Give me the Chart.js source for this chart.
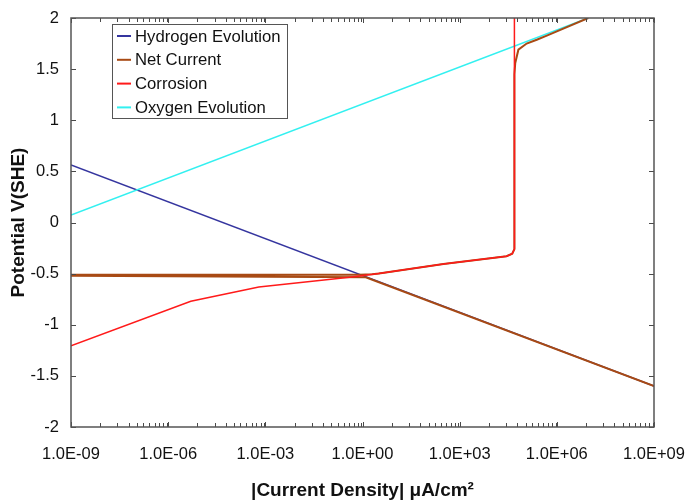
<!DOCTYPE html>
<html>
<head>
  <title>Polarization curves</title>
  <script src="https://cdn.jsdelivr.net/npm/chart.js"></script>
  <style>
    body {
      margin: 0;
      background: #ffffff;
    }

    .wrap {
      width: 686px;
      height: 503px;
    }
  </style>
</head>
<body>

  <div class="wrap">
    <canvas id="polChart" width="686" height="503"></canvas>
  </div>

  <script>
    // current density (uA/cm2) and potential (V vs SHE)
    const hydrogenI = [1e-9, 1e9];
    const hydrogenV = [0.563, -1.60];

    const netI = [1e9, 1.26, 1e-9, 1e-9, 0.8, 2.0, 3.2, 316, 2.8e4, 4.2e4, 4.9e4, 4.9e4, 5.2e4, 6.5e4, 1.17e5, 2.4e5, 4.9e5, 9.3e6];
    const netV = [-1.60, -0.535, -0.522, -0.512, -0.51, -0.505, -0.498, -0.405, -0.33, -0.305, -0.26, 1.45, 1.56, 1.69, 1.75, 1.787, 1.827, 2.0];

    const corrosionI = [1e-9, 5.0e-6, 6.3e-4, 0.40, 3.2, 316, 2.8e4, 4.2e4, 4.9e4, 4.9e4];
    const corrosionV = [-1.207, -0.77, -0.63, -0.535, -0.498, -0.405, -0.33, -0.305, -0.26, 2.0];

    const oxygenI = [1e-9, 9.3e6];
    const oxygenV = [0.073, 2.0];

    // axis ticks
    const xMajorTicks = [1e-9, 1e-6, 1e-3, 1e0, 1e3, 1e6, 1e9];
    const xMinorSteps = [8, 27, 60, 110, 170, 260, 380, 530, 710, 910];
    const yTicks = [-2, -1.5, -1, -0.5, 0, 0.5, 1, 1.5, 2];

    const seriesNames = ['Hydrogen Evolution', 'Net Current', 'Corrosion', 'Oxygen Evolution'];
    const seriesColors = ['#35359f', '#a84a14', '#ff1a1a', '#33f0f0'];

    const pts = (xs, ys) => xs.map((x, i) => ({ x: x, y: ys[i] }));

    function fmtExp(v) {
      const e = Math.round(Math.log10(v));
      const s = e < 0 ? '-' : '+';
      return '1.0E' + s + String(Math.abs(e)).padStart(2, '0');
    }

    const FONT = "'Liberation Sans', Arial, sans-serif";

    // inward ticks, frame and boxed legend
    const decorations = {
      id: 'decorations',
      afterDraw(chart) {
        const ctx = chart.ctx;
        const x = chart.scales.x, y = chart.scales.y;
        const a = chart.chartArea;
        ctx.save();
        ctx.strokeStyle = '#4a4a4a';
        ctx.lineWidth = 1;
        ctx.beginPath();
        const tick = (px, len) => {
          ctx.moveTo(px, a.bottom); ctx.lineTo(px, a.bottom - len);
          ctx.moveTo(px, a.top); ctx.lineTo(px, a.top + len);
        };
        xMajorTicks.forEach(v => tick(Math.round(x.getPixelForValue(v)) + 0.5, 5));
        xMajorTicks.slice(0, -1).forEach(v => {
          xMinorSteps.forEach(m => tick(Math.round(x.getPixelForValue(v * m)) + 0.5, 4));
        });
        yTicks.forEach(v => {
          const py = Math.round(y.getPixelForValue(v)) + 0.5;
          ctx.moveTo(a.left, py); ctx.lineTo(a.left + 5, py);
          ctx.moveTo(a.right, py); ctx.lineTo(a.right - 5, py);
        });
        ctx.stroke();
        ctx.lineWidth = 1.5;
        ctx.strokeStyle = '#555555';
        ctx.strokeRect(a.left, a.top, a.right - a.left, a.bottom - a.top);

        // legend
        const lx = 112, ly = 24, lw = 175, lh = 94;
        ctx.fillStyle = '#ffffff';
        ctx.fillRect(lx, ly, lw, lh);
        ctx.lineWidth = 1;
        ctx.strokeStyle = '#555555';
        ctx.strokeRect(lx + 0.5, ly + 0.5, lw, lh);
        ctx.font = '16.7px ' + FONT;
        ctx.textBaseline = 'middle';
        ctx.textAlign = 'left';
        seriesNames.forEach((name, i) => {
          const cy = 36 + i * 23.8;
          ctx.strokeStyle = seriesColors[i];
          ctx.lineWidth = 2;
          ctx.beginPath();
          ctx.moveTo(117, cy); ctx.lineTo(131, cy);
          ctx.stroke();
          ctx.fillStyle = '#111111';
          ctx.fillText(name, 135, cy + 1);
        });
        ctx.restore();
      }
    };

    const ctx = document.getElementById('polChart').getContext('2d');
    new Chart(ctx, {
      type: 'line',
      data: {
        datasets: [
          { label: seriesNames[0], data: pts(hydrogenI, hydrogenV), borderColor: seriesColors[0], borderWidth: 1.5, order: 3 },
          { label: seriesNames[1], data: pts(netI, netV), borderColor: seriesColors[1], borderWidth: 2, order: 1 },
          { label: seriesNames[2], data: pts(corrosionI, corrosionV), borderColor: seriesColors[2], borderWidth: 1.5, order: 0 },
          { label: seriesNames[3], data: pts(oxygenI, oxygenV), borderColor: seriesColors[3], borderWidth: 1.5, order: 2 }
        ]
      },
      options: {
        responsive: false,
        animation: false,
        elements: {
          point: { radius: 0 },
          line: { tension: 0 }
        },
        layout: {
          padding: { top: 18, right: 32, left: 0, bottom: 0 }
        },
        plugins: {
          legend: { display: false },
          tooltip: { enabled: false }
        },
        scales: {
          x: {
            type: 'logarithmic',
            min: 1e-9,
            max: 1e9,
            afterBuildTicks: s => { s.ticks = xMajorTicks.map(v => ({ value: v })); },
            afterFit: s => { s.height = 76; },
            // tick marks are hidden; tickLength only spaces the labels
            grid: { display: false, drawTicks: true, tickLength: 18 },
            border: { display: false },
            ticks: {
              autoSkip: false,
              maxRotation: 0,
              padding: 0,
              color: '#111111',
              font: { family: FONT, size: 16.5 },
              callback: v => fmtExp(v)
            },
            title: {
              display: true,
              text: '|Current Density| \u03bcA/cm\u00b2',
              color: '#111111',
              font: { family: FONT, size: 19, weight: 'bold' },
              padding: { top: 0, bottom: 1 }
            }
          },
          y: {
            min: -2,
            max: 2,
            afterBuildTicks: s => { s.ticks = yTicks.map(v => ({ value: v })); },
            afterFit: s => { s.width = 71; },
            grid: { display: false, drawTicks: true, tickLength: 12 },
            border: { display: false },
            ticks: {
              padding: 0,
              color: '#111111',
              font: { family: FONT, size: 16.5 },
              callback: v => String(v)
            },
            title: {
              display: true,
              text: 'Potential V(SHE)',
              color: '#111111',
              font: { family: FONT, size: 19, weight: 'bold' },
              padding: { top: 7, bottom: 0 }
            }
          }
        }
      },
      plugins: [decorations]
    });
  </script>
</body>
</html>
